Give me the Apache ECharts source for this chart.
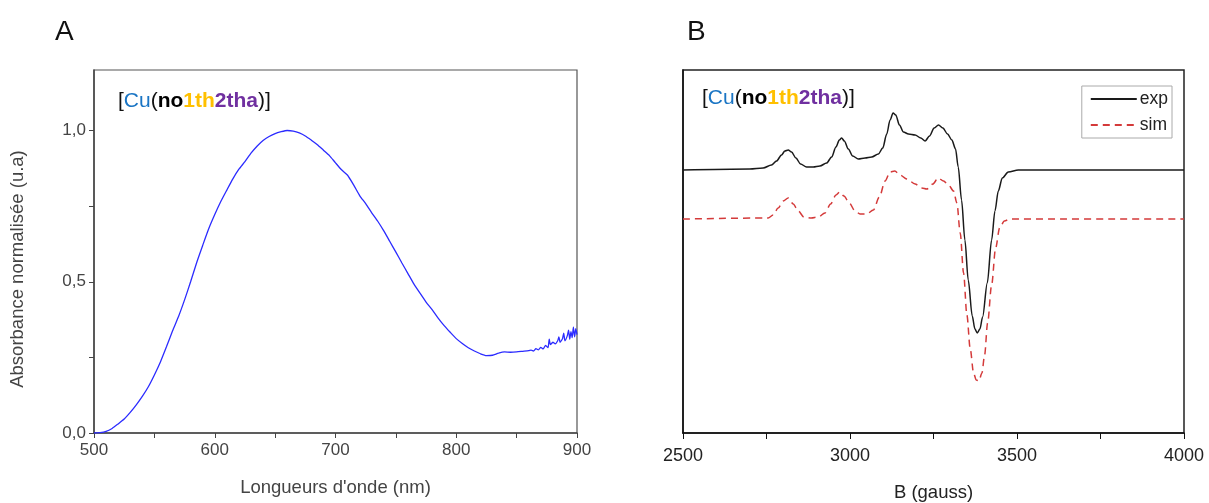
<!DOCTYPE html>
<html>
<head>
<meta charset="utf-8">
<script src="https://cdn.jsdelivr.net/npm/echarts@6/dist/echarts.min.js"></script>
<style>
html,body{margin:0;padding:0;background:#fff;}
#c{width:1209px;height:503px;}
</style>
</head>
<body>
<div id="c"></div>
<script>
// ---- Panel A: UV-vis absorbance ----
const wavelengthA = [500,505,510,515,520,525,530,535,540,545,550,555,560,565,570,575,580,585,590,595,600,605,610,615,620,625,630,635,640,645,650,655,660,665,670,675,680,685,690,695,700,705,710,715,720,725,730,735,740,745,750,755,760,765,770,775,780,785,790,795,800,805,810,815,820,825,830,835,840,845,850,855,860,862,864,866,868,870,872,874,876,877,878,880,882,884,885,886,888,889,890,892,893,894,895,896,897,898,899,900];
const absorbanceA = [0.000,0.001,0.005,0.015,0.030,0.046,0.068,0.093,0.121,0.153,0.192,0.235,0.285,0.337,0.385,0.440,0.500,0.563,0.620,0.675,0.722,0.765,0.803,0.840,0.872,0.897,0.925,0.948,0.967,0.980,0.990,0.996,1.000,0.998,0.992,0.982,0.968,0.953,0.935,0.917,0.893,0.870,0.852,0.820,0.785,0.758,0.728,0.700,0.668,0.633,0.598,0.562,0.527,0.492,0.462,0.433,0.408,0.380,0.355,0.333,0.312,0.296,0.282,0.271,0.262,0.256,0.257,0.264,0.268,0.267,0.268,0.270,0.272,0.274,0.271,0.279,0.275,0.283,0.278,0.290,0.282,0.310,0.292,0.300,0.295,0.305,0.318,0.300,0.312,0.330,0.305,0.322,0.340,0.310,0.335,0.315,0.350,0.318,0.345,0.325];
const xTicksA = [500,600,700,800,900];
const yTicksA = [0,0.5,1.0];

// ---- Panel B: EPR spectrum ----
const fieldExp = [2500,2700,2740,2765,2780,2795,2805,2815,2825,2838,2852,2870,2890,2910,2930,2945,2958,2968,2975,2983,2995,3008,3025,3045,3065,3085,3098,3110,3120,3129,3137,3148,3160,3175,3195,3212,3225,3238,3252,3265,3278,3292,3305,3316,3324,3334,3344,3354,3366,3374,3381,3389,3397,3411,3424,3434,3444,3456,3474,3504,4000];
const signalExp = [263,264,265,268,272,278,282,283,281,275,269,266,266,267,270,276,286,293,295,292,284,277,274,275,276,279,285,299,313,320,318,308,301,299,298,295,292,297,305,308,305,299,293,284,266,233,193,153,117,104,100,104,116,150,193,222,242,255,261,263,263];
const fieldSim = [2500,2755,2770,2785,2800,2815,2830,2845,2862,2884,2905,2925,2942,2958,2969,2982,2998,3015,3030,3050,3070,3088,3105,3120,3134,3150,3170,3195,3215,3230,3248,3264,3280,3295,3310,3320,3330,3340,3350,3360,3370,3378,3386,3395,3403,3412,3424,3436,3448,3462,3480,4000];
const signalSim = [214,215,218,225,232,235,229,222,216,215,216,220,229,238,241,237,230,222,219,219,223,236,252,261,262,258,254,249,245,244,249,255,252,248,242,230,200,160,118,84,60,53,52,60,78,110,148,185,205,212,214,214];
const xTicksB = [2500,3000,3500,4000];

const pairs = (xs, ys) => xs.map((x, i) => [x, ys[i]]);

const FONT = '"Liberation Sans", Arial, sans-serif';
const richTitle = {
  b:{color:'#111',fontSize:21,fontWeight:'normal',fontFamily:FONT},
  cu:{color:'#1a75c4',fontSize:21,fontWeight:'normal',fontFamily:FONT},
  no:{color:'#000',fontSize:21,fontWeight:'bold',fontFamily:FONT},
  y:{color:'#ffc000',fontSize:21,fontWeight:'bold',fontFamily:FONT},
  p:{color:'#7030a0',fontSize:21,fontWeight:'bold',fontFamily:FONT}
};
const titleText = '{b|[}{cu|Cu}{b|(}{no|no}{y|1th}{p|2tha}{b|)]}';

const chart = echarts.init(document.getElementById('c'), null, {renderer:'canvas'});
chart.setOption({
  animation:false,
  backgroundColor:'#fff',
  title:[
    {text:'A',left:50,top:13,textStyle:{fontSize:28,fontWeight:'normal',color:'#111',fontFamily:FONT}},
    {text:'B',left:682,top:13,textStyle:{fontSize:28,fontWeight:'normal',color:'#111',fontFamily:FONT}},
    {text:titleText,left:113,top:86,textStyle:{fontWeight:'normal',rich:richTitle}},
    {text:titleText,left:697,top:83,textStyle:{fontWeight:'normal',rich:richTitle}}
  ],
  graphic:[
    {type:'text',x:18,y:269,rotation:Math.PI/2,
     style:{text:'Absorbance normalisée (u.a)',fontSize:18.5,fill:'#444',fontFamily:FONT,align:'center',verticalAlign:'middle'}}
  ],
  legend:{
    data:['exp','sim'],
    orient:'vertical',
    right:37,top:86,
    itemWidth:46,itemHeight:14,itemGap:8,
    padding:[4,4,4,8],
    borderColor:'#aaa',borderWidth:1,
    itemStyle:{opacity:0},
    textStyle:{fontSize:17.5,color:'#222',fontFamily:FONT,padding:[0,0,0,-2]}
  },
  grid:[
    {left:94,right:632,top:70,bottom:70,show:true,borderColor:'#555',borderWidth:1.2,containLabel:false,outerBoundsMode:'none'},
    {left:683,right:25,top:70,bottom:70,show:true,borderColor:'#222',borderWidth:1.5,containLabel:false,outerBoundsMode:'none'}
  ],
  xAxis:[
    {type:'value',gridIndex:0,min:500,max:900,interval:50,
     name:'Longueurs d\'onde (nm)',nameLocation:'middle',nameGap:45,
     nameTextStyle:{fontSize:18.5,color:'#444',fontFamily:FONT},
     axisLine:{lineStyle:{color:'#444',width:1.5}},
     axisTick:{inside:false,length:5,lineStyle:{color:'#444'}},
     axisLabel:{customValues:xTicksA,fontSize:17,color:'#444',fontFamily:FONT,margin:9,formatter:v=>String(v)},
     splitLine:{show:false}},
    {type:'value',gridIndex:1,min:2500,max:4000,interval:250,
     name:'B (gauss)',nameLocation:'middle',nameGap:50,
     nameTextStyle:{fontSize:18.5,color:'#222',fontFamily:FONT},
     axisLine:{lineStyle:{color:'#111',width:1.5}},
     axisTick:{inside:false,length:6,lineStyle:{color:'#111'}},
     axisLabel:{customValues:xTicksB,fontSize:18,color:'#222',fontFamily:FONT,margin:14,formatter:v=>String(v)},
     splitLine:{show:false}},
  ],
  yAxis:[
    {type:'value',gridIndex:0,min:0,max:1.2,
     axisLine:{show:true,lineStyle:{color:'#444',width:1.5}},
     axisTick:{inside:false,length:5,customValues:[0,0.25,0.5,0.75,1.0],lineStyle:{color:'#444'}},
     axisLabel:{customValues:yTicksA,fontSize:17,color:'#444',fontFamily:FONT,margin:8,
       formatter:v=>v.toFixed(1).replace('.',',')},
     splitLine:{show:false}},
    {type:'value',gridIndex:1,min:0,max:363,
     axisLine:{show:true,lineStyle:{color:'#111',width:1.5}},
     axisTick:{show:false},axisLabel:{show:false},splitLine:{show:false}}
  ],
  series:[
    {type:'line',xAxisIndex:0,yAxisIndex:0,data:pairs(wavelengthA,absorbanceA),
     symbol:'none',smooth:0.2,lineStyle:{color:'#2b2bff',width:1.3},itemStyle:{color:'#2b2bff'}},
    {name:'exp',type:'line',xAxisIndex:1,yAxisIndex:1,data:pairs(fieldExp,signalExp),
     symbol:'none',smooth:0.3,smoothMonotone:'x',lineStyle:{color:'#1a1a1a',width:1.5},itemStyle:{color:'#1a1a1a'}},
    {name:'sim',type:'line',xAxisIndex:1,yAxisIndex:1,data:pairs(fieldSim,signalSim),
     symbol:'none',smooth:0.3,smoothMonotone:'x',lineStyle:{color:'#d43a3a',width:1.5,type:[7,5]},itemStyle:{color:'#d43a3a'}}
  ]
});
</script>
</body>
</html>
